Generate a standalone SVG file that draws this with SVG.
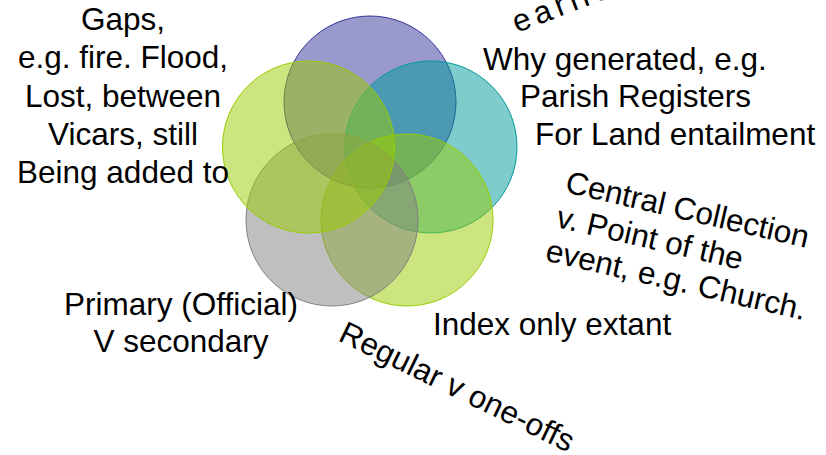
<svg xmlns="http://www.w3.org/2000/svg" width="826" height="455" viewBox="0 0 826 455">
<style>
.c{fill-opacity:0.5;stroke-width:1}
.t{font-family:"Liberation Sans",Arial,sans-serif;font-size:31.5px;fill:#000}
.m{text-anchor:middle}
</style>
<rect width="826" height="455" fill="#fff"/>
<g id="circles">
<g id="c-top"><circle class="c" cx="370" cy="102" r="86" fill="#333399" stroke="#333399"/></g>
<g id="c-right"><circle class="c" cx="431" cy="147" r="86" fill="#009999" stroke="#009999"/></g>
<g id="c-bottomright"><circle class="c" cx="407" cy="220" r="86" fill="#99cc00" stroke="#99cc00"/></g>
<g id="c-bottomleft"><circle class="c" cx="332" cy="220" r="86" fill="#808080" stroke="#808080"/></g>
<g id="c-left"><circle class="c" cx="308.5" cy="147" r="86" fill="#99cc00" stroke="#99cc00"/></g>
</g>
<g id="connectors"></g>
<g id="label-gaps">
<text class="t m" x="123" y="30">Gaps,</text>
<text class="t m" x="123" y="68.3">e.g. fire. Flood,</text>
<text class="t m" x="123" y="106.6">Lost, between</text>
<text class="t m" x="123" y="145">Vicars, still</text>
<text class="t m" x="123" y="183">Being added to</text>
</g>
<g id="label-earlier">
<text class="t" letter-spacing="5" transform="translate(517,33) rotate(-21)">earlie</text>
</g>
<g id="label-why">
<text class="t" x="483" y="70">Why generated, e.g.</text>
<text class="t" x="520" y="107">Parish Registers</text>
<text class="t" x="535" y="145">For Land entailment</text>
</g>
<g id="label-central" transform="translate(564,192) rotate(13)">
<text class="t" x="0" y="0">Central Collection</text>
<text class="t" x="-1" y="36">v. Point of the</text>
<text class="t" x="-4" y="71">event, e.g. Church.</text>
</g>
<g id="label-index">
<text class="t" x="433" y="335">Index only extant</text>
</g>
<g id="label-regular">
<text class="t" transform="translate(337,340) rotate(26)">Regular v one-offs</text>
</g>
<g id="label-primary">
<text class="t m" x="181" y="315">Primary (Official)</text>
<text class="t m" x="181" y="352">V secondary</text>
</g>
</svg>
